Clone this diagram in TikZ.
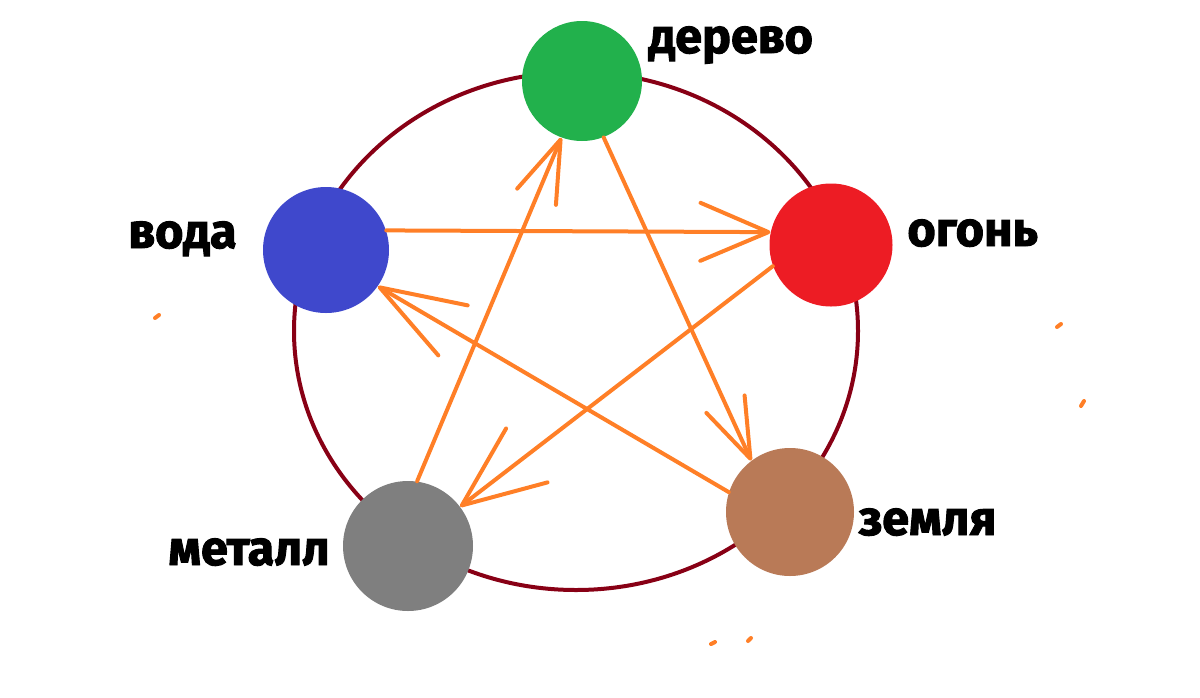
\documentclass[tikz,border=0pt]{standalone}
\usepackage{fontspec}
\setmainfont{Fira Sans}[BoldFeatures={FakeBold=2}]
\usetikzlibrary{arrows.meta}

\definecolor{woodgreen}{RGB}{34,177,76}
\definecolor{firered}{RGB}{237,28,36}
\definecolor{waterblue}{RGB}{63,72,204}
\definecolor{metalgray}{RGB}{127,127,127}
\definecolor{earthbrown}{RGB}{185,122,87}
\definecolor{rimred}{RGB}{136,0,21}
\definecolor{penorange}{RGB}{255,127,39}

\begin{document}
\begin{tikzpicture}[x=0.5pt, y=-0.5pt,
    elem/.style={circle, inner sep=0pt, minimum size=#1},
    word/.style={font=\bfseries\fontsize{24.3}{28}\selectfont, inner sep=0pt},
    link/.style 2 args={draw=penorange, line width=2pt, line cap=round,
        -{Straight Barb[round, length=#1, width=#2]}},
    speck/.style={penorange, line width=2pt, line cap=round}]
    \useasboundingbox (0,0) rectangle (1200,697);

    \draw[rimred, line width=2pt] (576,331) ellipse [x radius=282, y radius=259];

    \node[elem=60pt, fill=woodgreen] (wood) at (582,81) {};
    \node[elem=61.5pt, fill=firered] (fire) at (831,245) {};
    \node[elem=63pt, fill=waterblue] (water) at (326,250) {};
    \node[elem=65pt, fill=metalgray] (metal) at (408,546) {};
    \node[elem=64pt, fill=earthbrown] (earth) at (790,512) {};

    \node[word, anchor=base west] (woodtext) at (648,53) {дерево};
    \node[word, anchor=base west] (firetext) at (907,246) {огонь};
    \node[word, anchor=base west] (watertext) at (128,248) {вода};
    \node[word, anchor=base west] (metaltext) at (168,565) {металл};
    \node[word, anchor=base west] (earthtext) at (858,535) {земля};

    \draw[link={34pt}{29pt}] (water.18) -- (fire.168);
    \draw[link={30pt}{21pt}] (wood.-69) -- (earth.127);
    \draw[link={42.5pt}{29pt}] (earth.162) -- (water.-35);
    \draw[link={41pt}{34pt}] (fire.200) -- (metal.37);
    \draw[link={31pt}{21pt}] (metal.82) -- (wood.250);

    \draw[speck] (155,318) -- (159,315);
    \draw[speck] (1057,327) -- (1061,324);
    \draw[speck] (1081,406) -- (1084,401);
    \draw[speck] (711,644) -- (715,642);
    \draw[speck] (748,641) -- (751,638);
\end{tikzpicture}
\end{document}
